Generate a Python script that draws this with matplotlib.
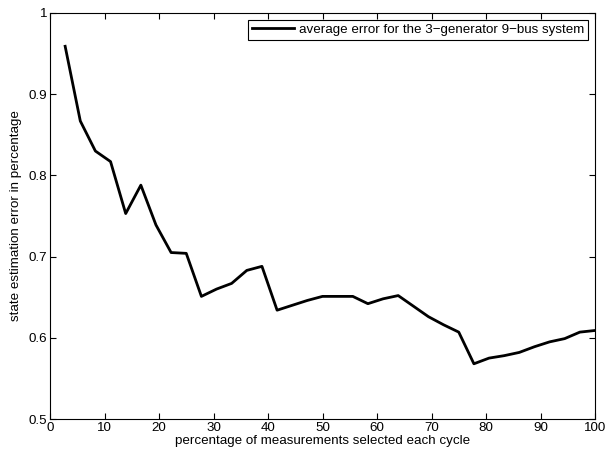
import matplotlib
matplotlib.use("Agg")
import matplotlib.pyplot as plt
import numpy as np

# percentage of measurements selected each cycle (36 steps)
pct = [2.78, 5.56, 8.33, 11.11, 13.89, 16.67, 19.44, 22.22, 25.0, 27.78,
       30.56, 33.33, 36.11, 38.89, 41.67, 44.44, 47.22, 50.0, 52.78, 55.56,
       58.33, 61.11, 63.89, 66.67, 69.44, 72.22, 75.0, 77.78, 80.56, 83.33,
       86.11, 88.89, 91.67, 94.44, 97.22, 100.0]
avg_err = [0.959, 0.867, 0.830, 0.817, 0.753, 0.788, 0.739, 0.705, 0.704, 0.651,
           0.660, 0.667, 0.683, 0.688, 0.634, 0.640, 0.646, 0.651, 0.651, 0.651,
           0.642, 0.648, 0.652, 0.639, 0.626, 0.616, 0.607, 0.568, 0.575, 0.578,
           0.582, 0.589, 0.595, 0.599, 0.607, 0.609]

xticks = [0, 10, 20, 30, 40, 50, 60, 70, 80, 90, 100]
yticks = [0.5, 0.6, 0.7, 0.8, 0.9, 1.0]
ytick_labels = ["0.5", "0.6", "0.7", "0.8", "0.9", "1"]

plt.rcParams['font.family'] = ['Liberation Sans', 'DejaVu Sans']
fs = 9.6

fig = plt.figure(figsize=(6.06, 4.55), dpi=100)
ax = fig.add_axes([50/606, 1 - 419/455, 545/606, 406/455])

ax.plot(pct, avg_err, color='black', linewidth=2,
        label='average error for the 3\u2212generator 9\u2212bus system')

ax.set_xlim(0, 100)
ax.set_ylim(0.5, 1)
ax.set_xticks(xticks)
ax.set_yticks(yticks)
ax.set_yticklabels(ytick_labels)
ax.tick_params(direction='in', top=True, right=True, labelsize=fs, length=4, width=0.8, pad=2)
for s in ax.spines.values():
    s.set_linewidth(0.8)

ax.set_xlabel('percentage of measurements selected each cycle', fontsize=fs, labelpad=1)
ax.set_ylabel('state estimation error in percentage', fontsize=fs, labelpad=5)

leg = ax.legend(loc='upper right', fontsize=fs, fancybox=False, framealpha=1,
                edgecolor='black', borderaxespad=0.5, handlelength=3.1,
                borderpad=0.3, handletextpad=0.4)
leg.get_frame().set_linewidth(0.8)

fig.savefig('out.png', dpi=100)
